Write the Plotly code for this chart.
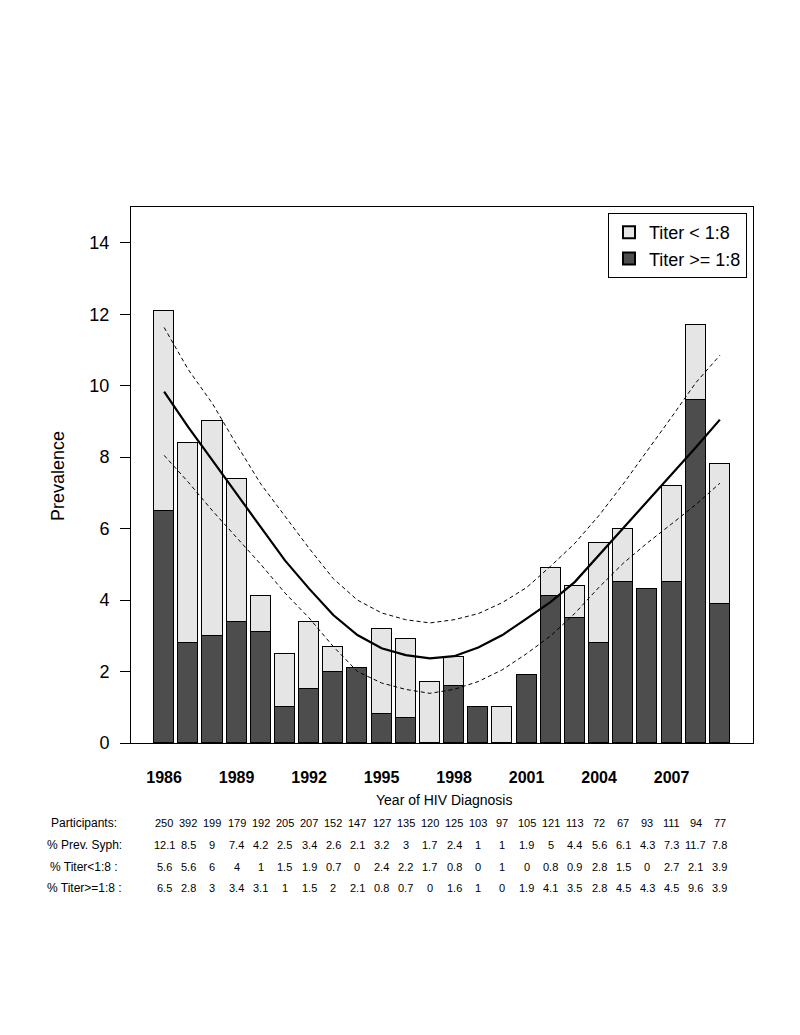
import plotly.graph_objects as go

years = list(range(1986, 2010))
participants = [250, 392, 199, 179, 192, 205, 207, 152, 147, 127, 135, 120, 125, 103, 97, 105, 121, 113, 72, 67, 93, 111, 94, 77]
prev_syph = [12.1, 8.5, 9, 7.4, 4.2, 2.5, 3.4, 2.6, 2.1, 3.2, 3, 1.7, 2.4, 1, 1, 1.9, 5, 4.4, 5.6, 6.1, 4.3, 7.3, 11.7, 7.8]
titer_low = [5.6, 5.6, 6, 4, 1, 1.5, 1.9, 0.7, 0, 2.4, 2.2, 1.7, 0.8, 0, 1, 0, 0.8, 0.9, 2.8, 1.5, 0, 2.7, 2.1, 3.9]
titer_high = [6.5, 2.8, 3, 3.4, 3.1, 1, 1.5, 2, 2.1, 0.8, 0.7, 0, 1.6, 1, 0, 1.9, 4.1, 3.5, 2.8, 4.5, 4.3, 4.5, 9.6, 3.9]

fit_mid = [9.83, 8.84, 7.91, 6.99, 6.04, 5.11, 4.32, 3.58, 3.02, 2.65, 2.46, 2.37, 2.43, 2.67, 3.02, 3.48, 3.95, 4.51, 5.26, 6.0, 6.78, 7.52, 8.27, 9.05]
fit_upper = [11.63, 10.45, 9.5, 8.35, 7.25, 6.35, 5.45, 4.6, 4.0, 3.64, 3.45, 3.36, 3.45, 3.62, 3.93, 4.35, 4.95, 5.59, 6.37, 7.25, 8.18, 9.12, 10.08, 10.85]
fit_lower = [8.05, 7.3, 6.5, 5.75, 5.0, 4.2, 3.5, 2.7, 2.0, 1.68, 1.5, 1.39, 1.5, 1.72, 2.05, 2.5, 3.0, 3.63, 4.36, 5.03, 5.6, 6.13, 6.67, 7.27]

x_ticks = [1986, 1989, 1992, 1995, 1998, 2001, 2004, 2007]
y_ticks = [0, 2, 4, 6, 8, 10, 12, 14]

row_labels = ["Participants:", "% Prev. Syph:", "% Titer<1:8 :", "% Titer>=1:8 :"]
row_values = [participants, prev_syph, titer_low, titer_high]

FONT = "Liberation Sans, Arial, Helvetica, sans-serif"
LIGHT = "#e5e5e5"
DARK = "#4d4d4d"

fig = go.Figure()
fig.add_trace(go.Bar(x=years, y=titer_high, name="Titer >= 1:8", width=1/1.2,
                     marker=dict(color=DARK, line=dict(color="black", width=1))))
fig.add_trace(go.Bar(x=years, y=titer_low, name="Titer < 1:8", width=1/1.2,
                     marker=dict(color=LIGHT, line=dict(color="black", width=1))))
fig.add_trace(go.Scatter(x=years, y=fit_mid, mode="lines", showlegend=False,
                         line=dict(color="black", width=2.2)))
fig.add_trace(go.Scatter(x=years, y=fit_upper, mode="lines", showlegend=False,
                         line=dict(color="black", width=1, dash="4px,3px")))
fig.add_trace(go.Scatter(x=years, y=fit_lower, mode="lines", showlegend=False,
                         line=dict(color="black", width=1, dash="4px,3px")))

# page body has an 8px margin; target pixel coordinates are page coordinates
OFF = 8
W, H = 800 - OFF, 1035 - OFF
PL, PR, PT, PB = 131, 753, 207, 743  # plot box in page pixels
L, T = PL - OFF, PT - OFF
R = W - (PR - OFF)
B = H - (PB - OFF)
pw, ph = PR - PL, PB - PT


def px_x(px):
    return (px - PL) / pw


def px_y(py):
    return (PB - py) / ph


annotations = []
row_px = [823, 845, 867, 888]
for lab, vals, py in zip(row_labels, row_values, row_px):
    yp = px_y(py)
    annotations.append(dict(text=lab, xref="paper", yref="paper", x=px_x(84), y=yp,
                            xanchor="center", yanchor="middle", showarrow=False,
                            font=dict(family=FONT, size=12, color="black")))
    for yr, v in zip(years, vals):
        annotations.append(dict(text=f"{v:g}", xref="x", yref="paper", x=yr, y=yp,
                                xanchor="center", yanchor="middle", showarrow=False,
                                font=dict(family=FONT, size=11, color="black")))

annotations.append(dict(text="Year of HIV Diagnosis", xref="paper", yref="paper",
                        x=px_x(444), y=px_y(800), xanchor="center", yanchor="middle",
                        showarrow=False, font=dict(family=FONT, size=14, color="black")))
annotations.append(dict(text="Prevalence", xref="paper", yref="paper",
                        x=px_x(58), y=px_y(476), xanchor="center", yanchor="middle",
                        textangle=-90, showarrow=False, font=dict(family=FONT, size=18, color="black")))

fig.update_layout(
    width=W, height=H,
    margin=dict(l=L, r=R, t=T, b=B, autoexpand=False),
    paper_bgcolor="white", plot_bgcolor="white",
    barmode="stack", bargap=0,
    font=dict(family=FONT, color="black"),
    showlegend=True,
    legend=dict(x=px_x(747), y=px_y(213), xanchor="right", yanchor="top",
                bordercolor="black", borderwidth=1, bgcolor="white",
                traceorder="reversed", font=dict(family=FONT, size=18, color="black"),
                itemsizing="constant", tracegroupgap=0),
    annotations=annotations,
    xaxis=dict(range=[1984.63, 2010.37], tickvals=x_ticks,
               ticktext=[f"<b>{v}</b>" for v in x_ticks],
               ticks="", showgrid=False, zeroline=False, showline=True, linecolor="black",
               linewidth=1, mirror=True, ticklabelstandoff=20,
               tickfont=dict(family=FONT, size=16, color="black")),
    yaxis=dict(range=[0, 15], tickvals=y_ticks, ticks="outside", ticklen=10, tickcolor="black",
               showgrid=False, zeroline=False, showline=True, linecolor="black", linewidth=1,
               mirror=True, ticklabelstandoff=7,
               tickfont=dict(family=FONT, size=18, color="black")),
)

fig.write_html("out.html")
